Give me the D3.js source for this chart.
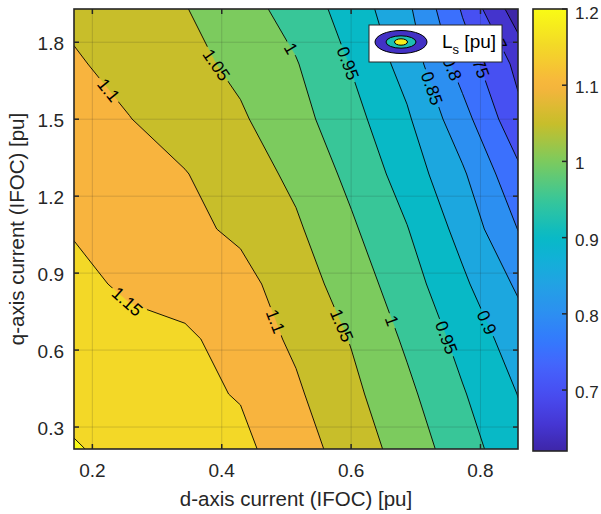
<!DOCTYPE html>
<html>
<head>
<meta charset="utf-8">
<script src="https://cdn.jsdelivr.net/npm/d3@7"></script>
<style>
  html, body { margin: 0; padding: 0; background: #fff; }
  svg { display: block; font-family: "Liberation Sans", Arial, Helvetica, sans-serif; }
</style>
</head>
<body>
<svg id="chart" width="601" height="514"></svg>
<script>
// Sample grid: d-axis current (columns) and q-axis current (rows), per unit
const idGrid = [0.1716, 0.2574, 0.3432, 0.4290, 0.5148, 0.6006, 0.6864, 0.7722, 0.8580];
const iqGrid = [0.2144, 0.4288, 0.6432, 0.8576, 1.0720, 1.2864, 1.5008, 1.7152, 1.9296];

// Stator inductance Ls [pu]; one row per iq value (lowest iq first), one entry per id value
const lsRows = [
  [1.203, 1.188, 1.171, 1.162, 1.122, 1.078, 1.028, 0.973, 0.915],
  [1.188, 1.175, 1.161, 1.147, 1.107, 1.062, 1.011, 0.954, 0.899],
  [1.174, 1.163, 1.160, 1.125, 1.092, 1.047, 0.992, 0.934, 0.875],
  [1.161, 1.143, 1.125, 1.116, 1.074, 1.027, 0.972, 0.909, 0.842],
  [1.147, 1.130, 1.112, 1.091, 1.057, 1.007, 0.952, 0.883, 0.799],
  [1.133, 1.117, 1.102, 1.074, 1.039, 0.987, 0.928, 0.857, 0.762],
  [1.118, 1.101, 1.079, 1.056, 1.018, 0.967, 0.907, 0.819, 0.713],
  [1.105, 1.085, 1.064, 1.039, 1.003, 0.947, 0.881, 0.778, 0.687],
  [1.090, 1.071, 1.052, 1.020, 0.980, 0.928, 0.861, 0.745, 0.621]
];

const contourLevels = [0.65, 0.7, 0.75, 0.8, 0.85, 0.9, 0.95, 1, 1.05, 1.1, 1.15, 1.2];
const xTicks = [0.2, 0.4, 0.6, 0.8];
const yTicks = [0.3, 0.6, 0.9, 1.2, 1.5, 1.8];
const cbarTicks = [0.7, 0.8, 0.9, 1, 1.1, 1.2];
const colorLimits = [0.62, 1.2];

// Inline contour label spots (id, iq), like a manual clabel placement
const labelSpots = [
  { level: 1.1,  id: 0.2247, iq: 1.6127 },
  { level: 1.05, id: 0.3975, iq: 1.7220 },
  { level: 1,    id: 0.5102, iq: 1.7805 },
  { level: 0.95, id: 0.5950, iq: 1.7180 },
  { level: 0.85, id: 0.7247, iq: 1.6205 },
  { level: 0.8,  id: 0.7570, iq: 1.6986 },
  { level: 0.75, id: 0.7915, iq: 1.7193 },
  { level: 0.7,  id: 0.8250, iq: 1.8156 },
  { level: 1.15, id: 0.2556, iq: 0.7935 },
  { level: 1.1,  id: 0.4870, iq: 0.7155 },
  { level: 1.05, id: 0.5858, iq: 0.6960 },
  { level: 1,    id: 0.6645, iq: 0.7155 },
  { level: 0.95, id: 0.7478, iq: 0.6492 },
  { level: 0.9,  id: 0.8065, iq: 0.7038 }
];

// Parula-style colormap: [position 0..1, r, g, b]
const parulaStops = [
  [0.000, 0.2422, 0.1504, 0.6603],
  [0.063, 0.2704, 0.2138, 0.8346],
  [0.126, 0.2813, 0.2985, 0.9397],
  [0.188, 0.2710, 0.3860, 0.9898],
  [0.251, 0.2006, 0.4803, 0.9906],
  [0.314, 0.1716, 0.5655, 0.9393],
  [0.377, 0.1321, 0.6363, 0.8932],
  [0.439, 0.0628, 0.6972, 0.8355],
  [0.483, 0.0310, 0.7250, 0.7760],
  [0.569, 0.2200, 0.7760, 0.5960],
  [0.655, 0.4860, 0.7960, 0.3690],
  [0.741, 0.7840, 0.7450, 0.1650],
  [0.828, 0.9730, 0.7060, 0.2430],
  [0.914, 0.9530, 0.8470, 0.1530],
  [1.000, 0.9769, 0.9839, 0.0805]
];

const svg = d3.select("#chart");
const W = 601, H = 514;
const plot = { left: 74, right: 518, top: 9, bottom: 449 };
const textColor = "#262626";

const x = d3.scaleLinear().domain([idGrid[0], idGrid[idGrid.length - 1]]).range([plot.left, plot.right]);
const y = d3.scaleLinear().domain([iqGrid[0], iqGrid[iqGrid.length - 1]]).range([plot.bottom, plot.top]);

const parula = d3.scaleLinear()
  .domain(parulaStops.map(s => s[0]))
  .range(parulaStops.map(s => d3.rgb(s[1] * 255, s[2] * 255, s[3] * 255).toString()))
  .interpolate(d3.interpolateRgb)
  .clamp(true);
const colorOf = v => parula((v - colorLimits[0]) / (colorLimits[1] - colorLimits[0]));

// Contour geometry
const nx = idGrid.length, ny = iqGrid.length;
const values = lsRows.flat();
const gx = d3.scaleLinear().domain([0.5, nx - 0.5]).range([idGrid[0], idGrid[nx - 1]]);
const gy = d3.scaleLinear().domain([0.5, ny - 0.5]).range([iqGrid[0], iqGrid[ny - 1]]);
const toPx = (cx, cy) => [x(gx(cx)), y(gy(cy))];
const path = d3.geoPath(d3.geoTransform({
  point(px, py) { const p = toPx(px, py); this.stream.point(p[0], p[1]); }
}));
const contourGen = d3.contours().size([nx, ny]).thresholds(contourLevels);
const bands = contourGen(values);

const defs = svg.append("defs");
defs.append("clipPath").attr("id", "plotClip")
  .append("rect")
  .attr("x", plot.left).attr("y", plot.top)
  .attr("width", plot.right - plot.left).attr("height", plot.bottom - plot.top);

const body = svg.append("g").attr("clip-path", "url(#plotClip)");

// lowest band background
body.append("rect")
  .attr("x", plot.left).attr("y", plot.top)
  .attr("width", plot.right - plot.left).attr("height", plot.bottom - plot.top)
  .attr("fill", colorOf(colorLimits[0]));

body.append("g").selectAll("path")
  .data(bands)
  .join("path")
  .attr("d", path)
  .attr("fill", d => colorOf(d.value))
  .attr("stroke", d => colorOf(d.value))
  .attr("stroke-width", 0.5);

// grid lines
const grid = body.append("g").attr("stroke", "rgba(38,38,38,0.17)").attr("stroke-width", 1);
xTicks.forEach(t => grid.append("line").attr("x1", x(t)).attr("x2", x(t)).attr("y1", plot.top).attr("y2", plot.bottom));
yTicks.forEach(t => grid.append("line").attr("y1", y(t)).attr("y2", y(t)).attr("x1", plot.left).attr("x2", plot.right));

// contour labels and gaps in the lines
const labelFont = 17.5;
const labelLayer = svg.append("g").attr("clip-path", "url(#plotClip)");
const mask = defs.append("mask").attr("id", "labelGaps").attr("maskUnits", "userSpaceOnUse")
  .attr("x", 0).attr("y", 0).attr("width", W).attr("height", H);
mask.append("rect").attr("x", 0).attr("y", 0).attr("width", W).attr("height", H).attr("fill", "white");

function ringsFor(level) {
  const g = d3.contours().size([nx, ny]).contour(values, level);
  const rings = [];
  g.coordinates.forEach(poly => poly.forEach(r => rings.push(r.map(p => toPx(p[0], p[1])))));
  return rings;
}

function nearest(rings, p) {
  let best = null;
  rings.forEach(r => {
    for (let i = 0; i < r.length - 1; i++) {
      const a = r[i], b = r[i + 1];
      const dx = b[0] - a[0], dy = b[1] - a[1];
      const L2 = dx * dx + dy * dy;
      if (!L2) continue;
      let t = ((p[0] - a[0]) * dx + (p[1] - a[1]) * dy) / L2;
      t = Math.max(0, Math.min(1, t));
      const q = [a[0] + t * dx, a[1] + t * dy];
      const d = (q[0] - p[0]) ** 2 + (q[1] - p[1]) ** 2;
      if (!best || d < best.d) best = { d, q, dx, dy };
    }
  });
  return best;
}

labelSpots.forEach(s => {
  const hit = nearest(ringsFor(s.level), [x(s.id), y(s.iq)]);
  if (!hit) return;
  let ang = Math.atan2(hit.dy, hit.dx) * 180 / Math.PI;
  if (ang > 90) ang -= 180;
  if (ang < -90) ang += 180;
  const tf = `translate(${hit.q[0]},${hit.q[1]}) rotate(${ang})`;
  const txt = labelLayer.append("text")
    .attr("transform", tf)
    .attr("text-anchor", "middle")
    .attr("dy", "0.36em")
    .attr("font-size", labelFont)
    .attr("fill", "#000")
    .text(String(s.level));
  const w = txt.node().getComputedTextLength() + 6;
  const h = labelFont * 0.85;
  mask.append("rect")
    .attr("x", -w / 2).attr("y", -h / 2).attr("width", w).attr("height", h)
    .attr("transform", tf).attr("fill", "black");
});

// contour lines
body.append("g").attr("mask", "url(#labelGaps)").selectAll("path")
  .data(bands)
  .join("path")
  .attr("d", path)
  .attr("fill", "none")
  .attr("stroke", "#000")
  .attr("stroke-width", 0.9);

labelLayer.raise();

// axes box and ticks
const axes = svg.append("g").attr("stroke", textColor).attr("fill", "none");
const tickLen = 5;
xTicks.forEach(t => {
  axes.append("line").attr("x1", x(t)).attr("x2", x(t)).attr("y1", plot.bottom).attr("y2", plot.bottom - tickLen).attr("stroke-width", 1.5);
  axes.append("line").attr("x1", x(t)).attr("x2", x(t)).attr("y1", plot.top).attr("y2", plot.top + tickLen).attr("stroke-width", 1.5);
});
yTicks.forEach(t => {
  axes.append("line").attr("y1", y(t)).attr("y2", y(t)).attr("x1", plot.left).attr("x2", plot.left + tickLen).attr("stroke-width", 1.5);
  axes.append("line").attr("y1", y(t)).attr("y2", y(t)).attr("x1", plot.right).attr("x2", plot.right - tickLen).attr("stroke-width", 1.5);
});
axes.append("rect")
  .attr("x", plot.left).attr("y", plot.top)
  .attr("width", plot.right - plot.left).attr("height", plot.bottom - plot.top)
  .attr("stroke-width", 1.6);

const tickFont = 19;
svg.append("g").selectAll("text").data(xTicks).join("text")
  .attr("x", d => x(d)).attr("y", 477)
  .attr("text-anchor", "middle").attr("font-size", tickFont).attr("fill", textColor)
  .text(d => d3.format(".1f")(d));
svg.append("g").selectAll("text").data(yTicks).join("text")
  .attr("x", 64).attr("y", d => y(d) + 1)
  .attr("dy", "0.35em")
  .attr("text-anchor", "end").attr("font-size", tickFont).attr("fill", textColor)
  .text(d => d3.format(".1f")(d));

const labelFontSize = 20.5;
svg.append("text")
  .attr("x", (plot.left + plot.right) / 2).attr("y", 506)
  .attr("text-anchor", "middle").attr("font-size", labelFontSize).attr("fill", textColor)
  .text("d-axis current (IFOC) [pu]");
svg.append("text")
  .attr("transform", `translate(24,${(plot.top + plot.bottom) / 2}) rotate(-90)`)
  .attr("text-anchor", "middle").attr("font-size", labelFontSize).attr("fill", textColor)
  .text("q-axis current (IFOC) [pu]");

// colorbar
const cb = { left: 533, right: 567, top: 9, bottom: 451 };
const cy = d3.scaleLinear().domain(colorLimits).range([cb.bottom, cb.top]);
const grad = defs.append("linearGradient").attr("id", "cbGrad")
  .attr("x1", 0).attr("y1", 1).attr("x2", 0).attr("y2", 0);
d3.range(0, 1.0001, 0.02).forEach(t => {
  grad.append("stop").attr("offset", t).attr("stop-color", parula(t));
});
svg.append("rect")
  .attr("x", cb.left).attr("y", cb.top)
  .attr("width", cb.right - cb.left).attr("height", cb.bottom - cb.top)
  .attr("fill", "url(#cbGrad)")
  .attr("stroke", textColor).attr("stroke-width", 1.6);
const cbg = svg.append("g");
cbarTicks.forEach(t => {
  cbg.append("line").attr("x1", cb.right).attr("x2", cb.right - 5)
    .attr("y1", cy(t)).attr("y2", cy(t)).attr("stroke", textColor).attr("stroke-width", 1.5);
  cbg.append("text")
    .attr("x", 575).attr("y", Math.max(cy(t) + 2, 13))
    .attr("dy", "0.35em").attr("font-size", 17).attr("fill", textColor)
    .text(String(t));
});

// legend
const lg = svg.append("g");
lg.append("rect").attr("x", 369).attr("y", 25).attr("width", 133).attr("height", 37)
  .attr("fill", "#fff").attr("stroke", textColor).attr("stroke-width", 1);
const icon = [
  { rx: 26, ry: 11.5, t: 0.04 },
  { rx: 15, ry: 6.2, t: 0.52 },
  { rx: 6.5, ry: 3.2, t: 0.97 }
];
icon.forEach(e => {
  lg.append("ellipse").attr("cx", 401).attr("cy", 42).attr("rx", e.rx).attr("ry", e.ry)
    .attr("fill", parula(e.t)).attr("stroke", "#000").attr("stroke-width", 1);
});
const lt = lg.append("text").attr("x", 442).attr("y", 48).attr("font-size", 19).attr("fill", "#000");
lt.append("tspan").text("L");
lt.append("tspan").attr("font-size", 13).attr("dy", 6).text("s");
lt.append("tspan").attr("dy", -6).text(" [pu]");
</script>
</body>
</html>
